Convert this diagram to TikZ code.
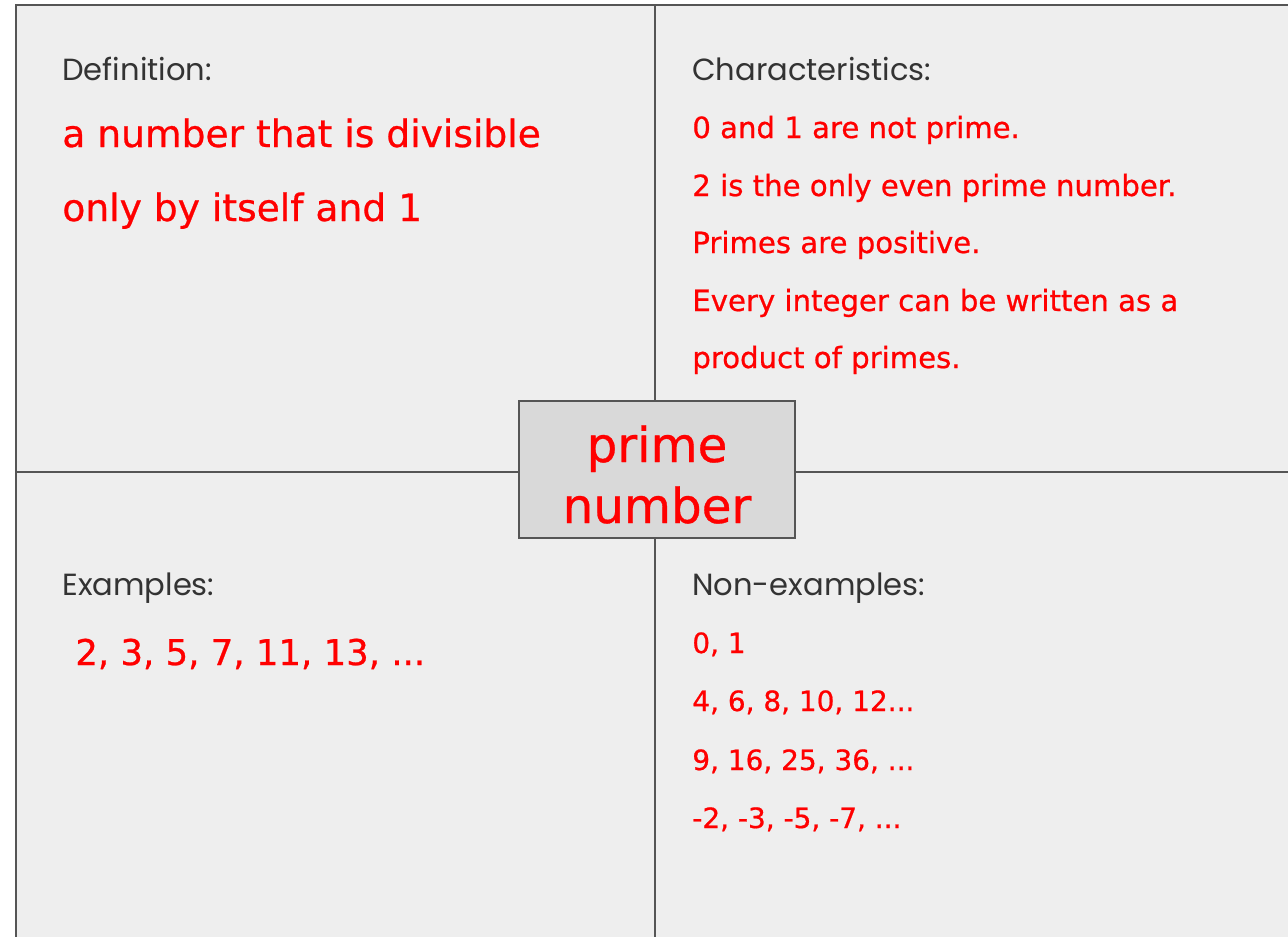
\documentclass[tikz,border=0pt]{standalone}
\usepackage{fontspec}
\setmainfont{DejaVu Sans}
\newfontfamily\redfont[FakeBold=0.7]{DejaVu Sans}
\newfontfamily\headfont{Poppins}
\usetikzlibrary{positioning}
\definecolor{panelgray}{HTML}{EEEEEE}
\definecolor{boxgray}{HTML}{D9D9D9}
\definecolor{linegray}{HTML}{555555}
\definecolor{headgray}{HTML}{333333}
\definecolor{primered}{HTML}{FF0000}
\tikzset{
  heading/.style={anchor=base west, inner sep=0pt, text=headgray, font=\headfont\fontsize{17.4pt}{20pt}\selectfont},
  deftext/.style={anchor=base west, inner sep=0pt, text=primered, font=\redfont\fontsize{21.4pt}{25pt}\selectfont},
  itemtext/.style={anchor=base west, inner sep=0pt, text=primered, font=\redfont\fontsize{16.6pt}{20pt}\selectfont},
  numtext/.style={anchor=base west, inner sep=0pt, text=primered, font=\redfont\fontsize{15.9pt}{19pt}\selectfont},
  exampletext/.style={anchor=base west, inner sep=0pt, text=primered, font=\redfont\fontsize{20.2pt}{24pt}\selectfont},
  centerbox/.style={draw=linegray, line width=1.2pt, fill=boxgray, minimum width=276*0.02cm, minimum height=137*0.02cm},
  centertext/.style={anchor=base, inner sep=0pt, text=primered, font=\redfont\fontsize{27.5pt}{33pt}\selectfont},
  divider/.style={draw=linegray, line width=1.1pt}
}
\begin{document}
\begin{tikzpicture}[x=0.02cm, y=-0.02cm]
  \useasboundingbox (0,0) rectangle (1288,937);
  \fill[white] (0,0) rectangle (1288,937);
  \fill[panelgray] (16,5) rectangle (1288,937);
  % frame corners and edges
  \coordinate (topleft) at (16,5);
  \coordinate (topright) at (1288,5);
  \coordinate (botleft) at (16,937);
  \coordinate (topmid) at (655,5);
  \coordinate (botmid) at (655,937);
  \coordinate (leftmid) at (16,472);
  \coordinate (rightmid) at (1288,472);
  \draw[divider] (topright) -- (topleft) -- (botleft);
  % centre box
  \node[centerbox] (prime) at (657,469.5) {};
  \node[centertext] (primeword) at (657,462) {prime};
  \node[centertext] (numberword) at (657,523) {number};
  \draw[divider] (topmid) -- (prime.north -| topmid);
  \draw[divider] (prime.south -| botmid) -- (botmid);
  \draw[divider] (leftmid) -- (prime.west |- leftmid);
  \draw[divider] (prime.east |- rightmid) -- (rightmid);
  % definition
  \node[heading] (defhead) at (62,80) {Definition:};
  \node[deftext] (defone) at (62,147) {a number that is divisible};
  \node[deftext] (deftwo) at (62,221) {only by itself and 1};
  % characteristics
  \node[heading] (charhead) at (692,80) {Characteristics:};
  \node[itemtext] (charone) at (692,138) {0 and 1 are not prime.};
  \node[itemtext] (chartwo) at (692,196) {2 is the only even prime number.};
  \node[itemtext] (charthree) at (692,253) {Primes are positive.};
  \node[itemtext] (charfour) at (692,311) {Every integer can be written as a};
  \node[itemtext] (charfive) at (692,368) {product of primes.};
  % examples
  \node[heading] (exhead) at (62,595) {Examples:};
  \node[exampletext] (exone) at (75,665) {2, 3, 5, 7, 11, 13, ...};
  % non-examples
  \node[heading] (nonhead) at (692,595) {Non-examples:};
  \node[numtext] (nonone) at (692,653) {0, 1};
  \node[numtext] (nontwo) at (692,711) {4, 6, 8, 10, 12...};
  \node[numtext] (nonthree) at (692,770) {9, 16, 25, 36, ...};
  \node[numtext] (nonfour) at (692,828) {-2, -3, -5, -7, ...};
\end{tikzpicture}
\end{document}
